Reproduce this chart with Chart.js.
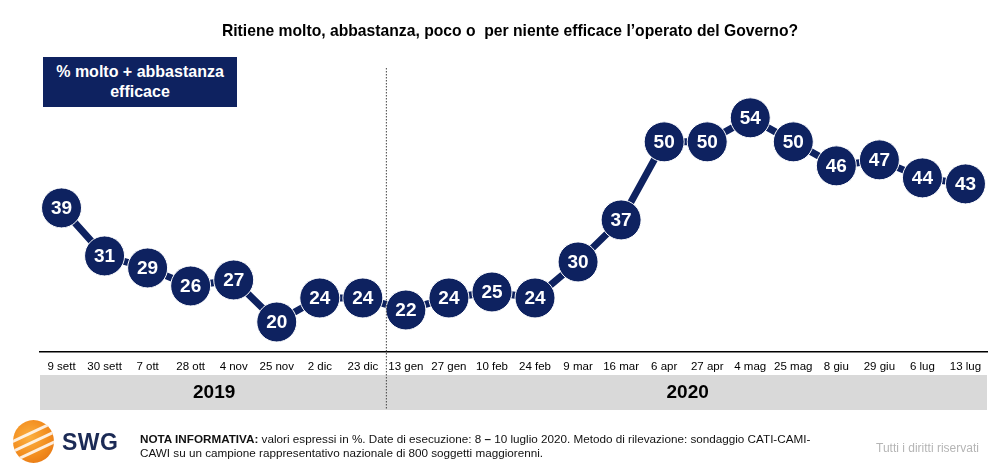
<!DOCTYPE html>
<html><head><meta charset="utf-8">
<script src="https://cdn.jsdelivr.net/npm/chart.js@4/dist/chart.umd.min.js"></script>
<style>
html,body{margin:0;padding:0;background:#fff;width:991px;height:467px;overflow:hidden;font-family:"Liberation Sans",Arial,sans-serif;}
#wrap{position:absolute;left:0;top:0;width:991px;height:467px;}
#title{position:absolute;left:0;width:1020px;top:22px;text-align:center;font-weight:bold;font-size:15.7px;color:#000;}
#box{position:absolute;left:43px;top:57px;width:194px;height:50px;background:#0e2260;color:#fff;font-weight:bold;font-size:16px;text-align:center;line-height:20px;display:flex;align-items:center;justify-content:center;}
#logo{position:absolute;left:13px;top:420px;width:41px;height:43px;border-radius:50%;background:radial-gradient(circle at 40% 40%,#fbb040 0%,#f28c1e 55%,#e06d10 100%);overflow:hidden;}
#logo div{position:absolute;left:-6px;width:54px;height:3px;background:rgba(255,255,255,0.85);transform:rotate(-25deg);}
#swg{position:absolute;left:62px;top:429px;font-weight:bold;font-size:23px;color:#1b2a55;letter-spacing:0.5px;}
#note{position:absolute;left:140px;top:432px;font-size:11.7px;line-height:13.5px;color:#111;}
#rights{position:absolute;left:876px;top:441px;font-size:12px;color:#b5b5b5;}
</style></head>
<body><div id="wrap"><canvas id="c" width="991" height="467"></canvas></div>
<div id="title">Ritiene molto, abbastanza, poco o &nbsp;per niente efficace l’operato del Governo?</div>
<div id="box">% molto + abbastanza<br>efficace</div>
<div id="logo"><div style="top:10px"></div><div style="top:20px"></div><div style="top:30px"></div></div>
<div id="swg">SWG</div>
<div id="note"><b>NOTA INFORMATIVA:</b> valori espressi in %. Date di esecuzione: 8 <b>–</b> 10 luglio 2020. Metodo di rilevazione: sondaggio CATI-CAMI-<br>CAWI su un campione rappresentativo nazionale di 800 soggetti maggiorenni.</div>
<div id="rights">Tutti i diritti riservati</div>
<script>
const categories = ["9 sett","30 sett","7 ott","28 ott","4 nov","25 nov","2 dic","23 dic","13 gen","27 gen","10 feb","24 feb","9 mar","16 mar","6 apr","27 apr","4 mag","25 mag","8 giu","29 giu","6 lug","13 lug"];
const values = [39,31,29,26,27,20,24,24,22,24,25,24,30,37,50,50,54,50,46,47,44,43];
const years = ["2019","2020"];
const yearCounts = [8,14];

const NAVY = "#0e2260";

const decor = {
  id:"decor",
  beforeDraw(chart){
    const ctx = chart.ctx, x = chart.scales.x;
    const n = categories.length;
    const p0 = x.getPixelForValue(0), p1 = x.getPixelForValue(1), pn = x.getPixelForValue(n-1);
    const half = (p1 - p0) / 2;
    const L = p0 - half, R = pn + half;
    ctx.save();
    ctx.fillStyle = "#d9d9d9";
    ctx.fillRect(L, 375, R - L, 35);
    const split = (x.getPixelForValue(yearCounts[0]-1) + x.getPixelForValue(yearCounts[0]))/2;
    ctx.fillStyle = "#000";
    ctx.font = "bold 19px 'Liberation Sans', Arial, sans-serif";
    ctx.textAlign = "center"; ctx.textBaseline = "middle";
    const bounds = [[L, split],[split, R]];
    years.forEach((yr,i)=>{
      ctx.fillText(yr, (bounds[i][0]+bounds[i][1])/2 + 2, 393);
    });
    ctx.restore();
  },
  afterDraw(chart){
    const ctx = chart.ctx, x = chart.scales.x;
    const split = (x.getPixelForValue(yearCounts[0]-1) + x.getPixelForValue(yearCounts[0]))/2 + 2;
    ctx.save();
    ctx.strokeStyle = "#444"; ctx.lineWidth = 1; ctx.setLineDash([1.5,1.5]);
    ctx.beginPath(); ctx.moveTo(split, 68); ctx.lineTo(split, 410); ctx.stroke();
    ctx.restore();
  },
  afterDatasetsDraw(chart){
    const ctx = chart.ctx;
    const meta = chart.getDatasetMeta(0);
    ctx.save();
    ctx.fillStyle = "#fff";
    ctx.font = "bold 19px 'Liberation Sans', Arial, sans-serif";
    ctx.textAlign = "center"; ctx.textBaseline = "middle";
    meta.data.forEach((p,i)=>{ ctx.fillText(String(values[i]), p.x, p.y + 1); });
    ctx.restore();
  }
};

new Chart(document.getElementById("c"), {
  type:"line",
  data:{labels:categories, datasets:[{
    data:values, borderColor:NAVY, borderWidth:7, backgroundColor:NAVY,
    pointRadius:20, pointHoverRadius:20, pointBackgroundColor:NAVY,
    pointBorderColor:"#ffffff", pointBorderWidth:1, tension:0, clip:false
  }]},
  options:{
    responsive:false, animation:false, events:[],
    layout:{autoPadding:false, padding:{left:40,right:4,top:62,bottom:0}},
    plugins:{legend:{display:false},tooltip:{enabled:false}},
    scales:{
      x:{offset:true, grid:{display:false, drawTicks:false},
         border:{display:true,color:"#000",width:1.5},
         ticks:{color:"#000",padding:8,maxRotation:0,autoSkip:false,font:{family:"'Liberation Sans', Arial, sans-serif",size:11.5}},
         afterFit(s){ s.height = 115; s.paddingLeft = 0; s.paddingRight = 0; }},
      y:{display:false,min:15,max:63.3}
    }
  },
  plugins:[decor]
});
</script></body></html>
